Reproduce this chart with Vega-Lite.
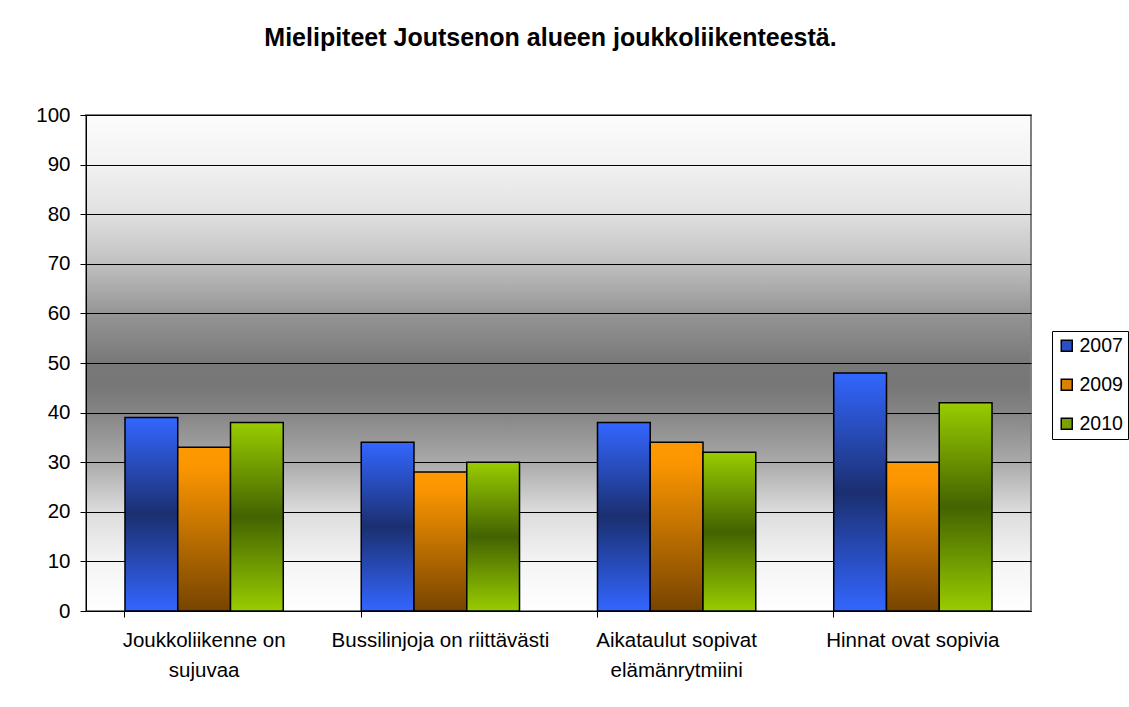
{
  "$schema": "https://vega.github.io/schema/vega-lite/v6.json",
  "autosize": "none",
  "width": 945,
  "height": 496,
  "padding": {"left": 86, "top": 115, "right": 98, "bottom": 96},
  "background": "white",
  "title": {
    "text": "Mielipiteet Joutsenon alueen joukkoliikenteestä.",
    "font": "Liberation Sans",
    "fontSize": 25,
    "fontWeight": "bold",
    "color": "black",
    "anchor": "middle",
    "baseline": "top",
    "offset": 54,
    "dx": -8
  },
  "data": {
    "values": [
      {"kategoria": "Joukkoliikenne on sujuvaa", "vuosi": "2007", "arvo": 39},
      {"kategoria": "Joukkoliikenne on sujuvaa", "vuosi": "2009", "arvo": 33},
      {"kategoria": "Joukkoliikenne on sujuvaa", "vuosi": "2010", "arvo": 38},
      {"kategoria": "Bussilinjoja on riittävästi", "vuosi": "2007", "arvo": 34},
      {"kategoria": "Bussilinjoja on riittävästi", "vuosi": "2009", "arvo": 28},
      {"kategoria": "Bussilinjoja on riittävästi", "vuosi": "2010", "arvo": 30},
      {"kategoria": "Aikataulut sopivat elämänrytmiini", "vuosi": "2007", "arvo": 38},
      {"kategoria": "Aikataulut sopivat elämänrytmiini", "vuosi": "2009", "arvo": 34},
      {"kategoria": "Aikataulut sopivat elämänrytmiini", "vuosi": "2010", "arvo": 32},
      {"kategoria": "Hinnat ovat sopivia", "vuosi": "2007", "arvo": 48},
      {"kategoria": "Hinnat ovat sopivia", "vuosi": "2009", "arvo": 30},
      {"kategoria": "Hinnat ovat sopivia", "vuosi": "2010", "arvo": 42}
    ]
  },
  "mark": {"type": "bar", "stroke": "black", "strokeWidth": 1.5},
  "encoding": {
    "x": {
      "field": "kategoria",
      "type": "nominal",
      "sort": null,
      "scale": {"paddingInner": 0.33, "paddingOuter": 0.165},
      "axis": {
        "title": null,
        "labelAngle": 0,
        "labelFont": "Liberation Sans",
        "labelFontSize": 20.5,
        "labelColor": "black",
        "labelPadding": 13,
        "labelLineHeight": 30,
        "labelBaseline": "top",
        "labelLimit": 400,
        "labelExpr": "datum.value === 'Joukkoliikenne on sujuvaa' ? ['Joukkoliikenne on', 'sujuvaa'] : datum.value === 'Aikataulut sopivat elämänrytmiini' ? ['Aikataulut sopivat', 'elämänrytmiini'] : datum.value",
        "bandPosition": 0,
        "tickSize": 6,
        "tickColor": "black",
        "domainColor": "black",
        "grid": false
      }
    },
    "xOffset": {"field": "vuosi", "type": "nominal", "scale": {"paddingInner": 0, "paddingOuter": 0}},
    "y": {
      "field": "arvo",
      "type": "quantitative",
      "scale": {"domain": [0, 100]},
      "axis": {
        "title": null,
        "values": [0, 10, 20, 30, 40, 50, 60, 70, 80, 90, 100],
        "labelFont": "Liberation Sans",
        "labelFontSize": 20.5,
        "labelColor": "black",
        "labelPadding": 10,
        "tickSize": 6,
        "tickColor": "black",
        "domainColor": "black",
        "gridColor": "black",
        "gridOpacity": 1,
        "gridWidth": 1
      }
    },
    "color": {
      "field": "vuosi",
      "type": "nominal",
      "scale": {"domain": ["2007", "2009", "2010"], "range": ["#2a4fc4", "#d98200", "#7aa300"]},
      "condition": [
        {"test": "datum.vuosi === '2007'", "value": {"gradient": "linear", "x1": 0, "y1": 0, "x2": 0, "y2": 1, "stops": [{"offset": 0, "color": "#3366ff"}, {"offset": 0.5, "color": "#1b2f70"}, {"offset": 1, "color": "#3366ff"}]}},
        {"test": "datum.vuosi === '2009'", "value": {"gradient": "linear", "x1": 0, "y1": 0, "x2": 0, "y2": 1, "stops": [{"offset": 0, "color": "#ff9900"}, {"offset": 0.12, "color": "#fb9600"}, {"offset": 1, "color": "#774400"}]}},
        {"test": "datum.vuosi === '2010'", "value": {"gradient": "linear", "x1": 0, "y1": 0, "x2": 0, "y2": 1, "stops": [{"offset": 0, "color": "#99cc00"}, {"offset": 0.5, "color": "#436300"}, {"offset": 1, "color": "#99cc00"}]}}
      ],
      "legend": {
        "title": null,
        "orient": "none",
        "legendX": 966,
        "legendY": 216,
        "symbolType": "square",
        "symbolSize": 121,
        "symbolStrokeColor": "black",
        "symbolStrokeWidth": 1.5,
        "labelFont": "Liberation Sans",
        "labelFontSize": 19.5,
        "labelColor": "black",
        "labelOffset": 3,
        "rowPadding": 18,
        "padding": 5,
        "strokeColor": "black",
        "fillColor": "white"
      }
    }
  },
  "config": {
    "view": {
      "stroke": "#808080",
      "strokeWidth": 2,
      "fill": {"gradient": "linear", "x1": 0, "y1": 0, "x2": 0, "y2": 1, "stops": [
        {"offset": 0, "color": "#fcfcfc"},
        {"offset": 0.1, "color": "#f2f2f2"},
        {"offset": 0.2, "color": "#e0e0e0"},
        {"offset": 0.3, "color": "#c0c0c0"},
        {"offset": 0.4, "color": "#959595"},
        {"offset": 0.5, "color": "#787878"},
        {"offset": 0.55, "color": "#777777"},
        {"offset": 0.6, "color": "#858585"},
        {"offset": 0.7, "color": "#aaaaaa"},
        {"offset": 0.8, "color": "#dcdcdc"},
        {"offset": 0.9, "color": "#f4f4f4"},
        {"offset": 1, "color": "#ffffff"}
      ]}
    }
  }
}
